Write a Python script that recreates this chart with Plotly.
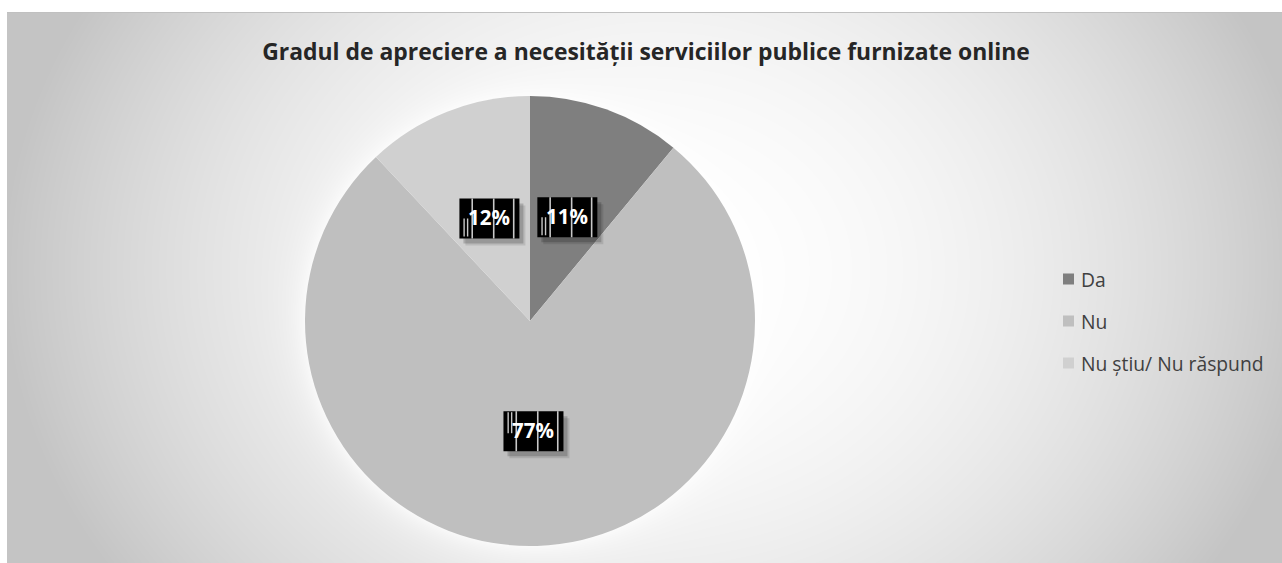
import numpy as np
import zlib, struct, base64
import plotly.graph_objects as go

# ---------------- data ----------------
categories = ["Da", "Nu", "Nu știu/ Nu răspund"]
values = [11, 77, 12]
title_text = "Gradul de apreciere a necesității serviciilor publice furnizate online"

# ---------------- style ----------------
colors = ["#7f7f7f", "#bfbfbf", "#d0d0d0"]
W, H = 1282, 563
CX, CY, R = 530, 321, 225          # pie centre / radius in pixels
FONT = "Open Sans"

# ---------------- background (radial gradient + glow) ----------------
X0, Y0 = 7, 12
bw, bh = W - X0, H - Y0
yy, xx = np.mgrid[0:bh, 0:bw]
px = xx + X0 + 0.5
py = yy + Y0 + 0.5
t = np.sqrt(((px - 660) / 660) ** 2 + ((py - 270) / 550) ** 2)
t = np.clip(t, 0, 1)
val = 255 - 59 * t ** 2
d = np.sqrt((px - CX) ** 2 + (py - CY) ** 2) - R
glow = np.where(d > 0, np.exp(-np.maximum(d, 0) / 14.0), 1.0) * 0.7
val = val + (255 - val) * glow
val[0, :] = 192
img = np.clip(val, 0, 255).astype(np.uint8)
raw = b"".join(b"\x00" + row.tobytes() for row in img)


def chunk(tag, data):
    return (struct.pack(">I", len(data)) + tag + data
            + struct.pack(">I", zlib.crc32(tag + data) & 0xFFFFFFFF))


png = (b"\x89PNG\r\n\x1a\n"
       + chunk(b"IHDR", struct.pack(">IIBBBBB", bw, bh, 8, 0, 0, 0, 0))
       + chunk(b"IDAT", zlib.compress(raw, 9))
       + chunk(b"IEND", b""))
bg_src = "data:image/png;base64," + base64.b64encode(png).decode()

# ---------------- figure ----------------
fig = go.Figure(go.Pie(
    labels=categories,
    values=values,
    sort=False,
    direction="clockwise",
    rotation=0,
    marker=dict(colors=colors, line=dict(width=0)),
    textinfo="none",
    hoverinfo="label+percent",
    showlegend=False,
    domain=dict(x=[(CX - R) / W, (CX + R) / W],
                y=[1 - (CY + R) / H, 1 - (CY - R) / H]),
))

shapes = []
annotations = []

# data labels (black boxes with light stripes, like the reference)
total = sum(values)
cum = 0
BW_, BH_ = 60, 40
for i, v in enumerate(values):
    mid = (cum + v / 2) / total
    cum += v
    th = 2 * np.pi * mid
    rl = 0.49 * R
    lx = CX + rl * np.sin(th)
    ly = CY - rl * np.cos(th)
    ax, ay = lx / W, 1 - ly / H

    def rect(x0, x1, y0, y1, fill, op=1.0):
        # offsets in pixels relative to label centre (y downward)
        shapes.append(dict(type="rect", xref="paper", yref="paper",
                           xsizemode="pixel", ysizemode="pixel",
                           xanchor=ax, yanchor=ay,
                           x0=x0, x1=x1, y0=-y1, y1=-y0,
                           fillcolor=fill, opacity=op, line=dict(width=0),
                           layer="above"))

    # shadow
    rect(-BW_ / 2 + 6, BW_ / 2 + 6, -BH_ / 2 + 7, BH_ / 2 + 7, "#000000", 0.10)
    rect(-BW_ / 2 + 4, BW_ / 2 + 4, -BH_ / 2 + 5, BH_ / 2 + 5, "#000000", 0.18)
    # box
    rect(-BW_ / 2, BW_ / 2, -BH_ / 2, BH_ / 2, "#000000", 1.0)
    left = -BW_ / 2
    for off in (12, 33.5, 53.5):
        rect(left + off, left + off + 1.6, -BH_ / 2, BH_ / 2, "#c8c8c8")
    if i == 1:
        py0, py1 = -BH_ / 2 + 1, 2
    else:
        py0, py1 = 0, BH_ / 2 - 2
    for off in (4, 7.5):
        rect(left + off, left + off + 1.4, py0, py1, "#c8c8c8")

    annotations.append(dict(
        x=ax, y=ay + 1 / H, xref="paper", yref="paper",
        text=f"{round(100 * v / total)}%", showarrow=False,
        xanchor="center", yanchor="middle",
        font=dict(family=FONT, size=20.5, color="#ffffff", weight="bold"),
    ))

# legend (manual, to match spacing)
LX, LSP = 1063, 42
for i, (c, col) in enumerate(zip(categories, colors)):
    yc = CY + (i - 1) * LSP
    shapes.append(dict(type="rect", xref="paper", yref="paper",
                       x0=LX / W, x1=(LX + 11) / W,
                       y0=1 - (yc + 5.5) / H, y1=1 - (yc - 5.5) / H,
                       fillcolor=col, line=dict(width=0)))
    annotations.append(dict(
        x=(LX + 16) / W, y=1 - yc / H, xref="paper", yref="paper",
        text=c, showarrow=False, xanchor="left", yanchor="middle",
        font=dict(family=FONT, size=19.3, color="#404040"),
    ))

fig.update_layout(
    width=W, height=H,
    margin=dict(l=0, r=0, t=0, b=0),
    paper_bgcolor="#ffffff",
    plot_bgcolor="#ffffff",
    title=dict(text=title_text, x=646 / W, y=1 - 52 / H,
               xanchor="center", yanchor="middle", xref="paper", yref="paper",
               font=dict(family=FONT, size=22.9, color="#262626", weight="bold")),
    images=[dict(source=bg_src, xref="paper", yref="paper",
                 x=X0 / W, y=1 - Y0 / H, sizex=bw / W, sizey=bh / H,
                 xanchor="left", yanchor="top", sizing="stretch",
                 layer="below")],
    shapes=shapes,
    annotations=annotations,
    showlegend=False,
)

fig.write_html("out.html", config={"displayModeBar": False},
               post_script="document.body.style.margin='0';")
